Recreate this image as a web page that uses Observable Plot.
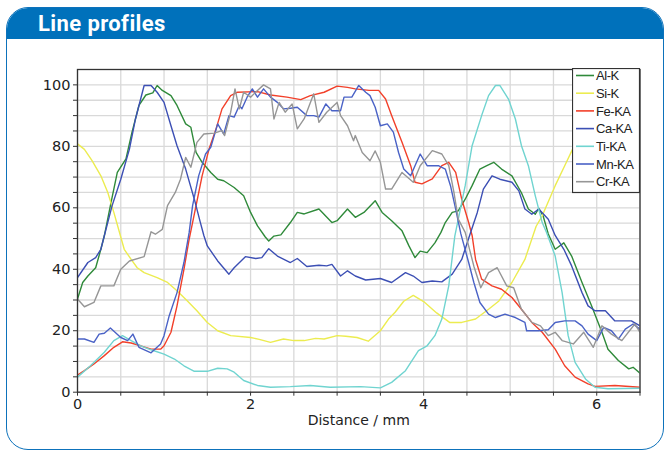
<!DOCTYPE html>
<html>
<head>
<meta charset="utf-8">
<script src="https://cdn.jsdelivr.net/npm/d3@7"></script>
<script src="https://cdn.jsdelivr.net/npm/@observablehq/plot@0.6"></script>
<style>
  html, body { margin: 0; padding: 0; background: #fff; }
  #wrap { position: relative; width: 667px; height: 455px; overflow: hidden; font-family: "DejaVu Sans", Verdana, sans-serif; }
  #card { position: absolute; left: 6px; top: 7px; width: 656px; height: 441px; border: 1.5px solid #0d72bb; border-radius: 22px; overflow: hidden; background: #fff; }
  #head { height: 31px; background: #0071bb; color: #fff; font-family: Roboto, "Liberation Sans", Arial, sans-serif; font-weight: bold; font-size: 22px; line-height: 31px; padding-left: 31px; letter-spacing: 0.4px; }
  #chart { position: absolute; left: 0; top: 0; }
  #legend { position: absolute; left: 572px; top: 68px; }
</style>
</head>
<body>
<div id="wrap">
  <div id="card"><div id="head">Line profiles</div></div>
  <div id="chart"></div>
  <svg id="legend" width="68" height="126"></svg>
</div>
<script>
const seriesNames = ["Al-K", "Si-K", "Fe-KA", "Ca-KA", "Ti-KA", "Mn-KA", "Cr-KA"];
const seriesColors = ["#2f8a3a", "#ecec50", "#f2402a", "#3c4fb4", "#70d4d0", "#4a62c6", "#969696"];
const xTicks = [0, 0.5, 1, 1.5, 2, 2.5, 3, 3.5, 4, 4.5, 5, 5.5, 6, 6.5];
const xLabels = [0, 2, 4, 6];
const yTicks = [0,5,10,15,20,25,30,35,40,45,50,55,60,65,70,75,80,85,90,95,100];
const yLabels = [0, 20, 40, 60, 80, 100];

const alK = [[0,30.3],[0.06,35.7],[0.12,37.8],[0.21,40.5],[0.27,46.5],[0.31,50.9],[0.38,60.7],[0.46,71.5],[0.56,75.9],[0.63,84.6],[0.71,93.3],[0.79,96.7],[0.87,97.4],[0.92,99.8],[0.98,98.2],[1.08,96.5],[1.15,93.3],[1.25,87.3],[1.31,86.2],[1.37,78],[1.44,74.8],[1.54,71.5],[1.62,69.3],[1.69,68.8],[1.81,66.6],[1.92,63.9],[2.0,58.5],[2.08,54.1],[2.17,50.5],[2.21,49.2],[2.27,50.8],[2.35,51.2],[2.46,55.2],[2.54,58.5],[2.62,58],[2.79,59.6],[2.94,55.2],[3.0,55.8],[3.12,59.6],[3.21,56.9],[3.31,58.5],[3.44,62.3],[3.52,58.5],[3.63,55.8],[3.75,52.5],[3.83,47.6],[3.9,43.8],[3.96,45.9],[4.04,45.4],[4.13,48.6],[4.2,52],[4.25,55.2],[4.33,58.5],[4.4,59],[4.48,62.8],[4.56,67.2],[4.65,72.6],[4.73,73.7],[4.81,74.8],[4.9,72.6],[5.02,70.4],[5.13,64.9],[5.21,59.6],[5.29,57.9],[5.33,59.8],[5.38,57.4],[5.44,51.5],[5.52,46.5],[5.62,48.6],[5.71,44.3],[5.83,35.7],[5.94,28.1],[6.06,19.5],[6.13,14],[6.25,10.3],[6.37,7.6],[6.42,8.1],[6.5,6.2]];
const siK = [[0,80.8],[0.08,79],[0.17,75.3],[0.27,70.4],[0.35,65],[0.42,58.5],[0.5,50.5],[0.54,46.5],[0.62,43.2],[0.69,40.5],[0.77,38.9],[0.92,37.3],[1.04,35.7],[1.15,33],[1.27,29.7],[1.38,26.5],[1.5,22.7],[1.62,20],[1.77,18.4],[2.0,17.8],[2.1,17.2],[2.23,16.2],[2.38,17.3],[2.5,16.8],[2.62,16.8],[2.75,17.5],[2.85,17.3],[3.0,18.4],[3.1,18.2],[3.23,17.8],[3.36,16.6],[3.5,20],[3.6,24],[3.67,26],[3.77,29.6],[3.88,31.5],[4.0,29.5],[4.15,25.8],[4.3,22.7],[4.44,22.7],[4.6,23.8],[4.75,27],[4.87,29.7],[5.02,35.7],[5.17,43.2],[5.3,54],[5.37,57.4],[5.52,67.2],[5.63,73.7],[5.72,79],[5.9,87],[6.1,94],[6.3,98],[6.5,100]];
const feKA = [[0,5.6],[0.08,7],[0.19,9.2],[0.31,11.9],[0.42,14.6],[0.52,16.4],[0.62,16],[0.73,15.1],[0.85,14],[0.96,14],[1.0,15.1],[1.08,19.5],[1.15,28.1],[1.23,40],[1.29,49.7],[1.37,60.7],[1.44,70.4],[1.52,79.1],[1.6,85.6],[1.67,92.2],[1.77,96.5],[1.85,97.6],[2.08,97.8],[2.23,96.7],[2.42,96],[2.58,95.2],[2.69,96.5],[2.85,97.6],[3.0,99.6],[3.12,99.2],[3.21,98.7],[3.37,98.2],[3.48,98.2],[3.56,95.4],[3.63,90],[3.75,81.3],[3.85,73.7],[3.9,68.3],[3.98,67.8],[4.1,69.4],[4.21,73.7],[4.29,74.8],[4.37,71.5],[4.44,62.8],[4.52,55.2],[4.56,51],[4.6,43.2],[4.67,36.8],[4.79,34.6],[4.9,33.5],[5.02,30.8],[5.13,27],[5.25,22.7],[5.37,19.5],[5.52,14],[5.63,8.6],[5.75,4.9],[5.9,2.7],[5.98,1.9],[6.21,2.2],[6.5,1.6]];
const caKA = [[0,37.3],[0.12,42.2],[0.21,43.8],[0.27,46.5],[0.31,50.9],[0.4,60.7],[0.5,69.3],[0.6,79.1],[0.67,88.9],[0.77,99.8],[0.85,99.8],[0.92,97.6],[1.0,94.3],[1.08,86.7],[1.15,80.2],[1.25,72.6],[1.35,62.8],[1.42,55.2],[1.46,51],[1.5,47.6],[1.62,42.7],[1.75,38.4],[1.81,40.5],[1.94,44.1],[2.06,43.5],[2.13,43.8],[2.21,46.7],[2.31,44.3],[2.46,42.2],[2.54,43.5],[2.65,40.9],[2.79,41.3],[2.88,41.1],[2.94,41.6],[3.04,37.8],[3.12,39.5],[3.21,37.8],[3.33,36.5],[3.5,37],[3.63,35.7],[3.79,38.9],[3.88,37.8],[3.98,35.7],[4.1,36.2],[4.21,35.9],[4.33,38.4],[4.44,43.2],[4.53,50.9],[4.62,58.5],[4.69,66.1],[4.79,70.4],[4.88,69.3],[5.02,68.3],[5.1,65.5],[5.17,59.6],[5.25,57.9],[5.33,59.6],[5.44,56.3],[5.52,51],[5.62,46.5],[5.71,41.1],[5.83,32.4],[5.9,28.1],[5.98,26.5],[6.1,26.5],[6.21,23.2],[6.4,23.2],[6.5,21.6]];
const tiKA = [[0,4.9],[0.15,8.6],[0.31,13],[0.42,16.8],[0.52,18.4],[0.62,16.8],[0.73,15.1],[0.85,13.8],[1.0,12.4],[1.12,10.8],[1.23,8.6],[1.35,6.8],[1.5,6.8],[1.62,7.8],[1.73,7.6],[1.81,6.5],[1.92,3.8],[2.08,2.2],[2.23,1.6],[2.46,1.8],[2.69,2.2],[2.92,1.6],[3.27,1.8],[3.5,1.4],[3.63,3.2],[3.79,7],[3.94,13.5],[4.04,15.1],[4.13,18.4],[4.21,23.8],[4.29,34.6],[4.36,50.8],[4.48,67.2],[4.56,80.2],[4.67,90],[4.75,96.5],[4.83,99.8],[4.88,99.8],[4.98,95.4],[5.06,88.9],[5.13,80.2],[5.21,73.7],[5.29,63.9],[5.37,55.2],[5.42,52],[5.52,44.3],[5.6,32.4],[5.67,18.4],[5.75,9.7],[5.87,4.3],[5.98,1.6],[6.13,1.1],[6.5,1.3]];
const mnKA = [[0,17.3],[0.08,17.3],[0.19,16.2],[0.25,18.9],[0.31,19.2],[0.38,20.9],[0.5,17.8],[0.58,16.8],[0.64,18.9],[0.71,14.6],[0.85,12.8],[0.96,15.7],[1.0,18.4],[1.06,24.9],[1.15,32.4],[1.23,42.2],[1.29,51.9],[1.33,60.7],[1.4,70.4],[1.48,77.5],[1.54,79.7],[1.62,87.3],[1.69,84],[1.75,90],[1.81,89.5],[1.87,93.3],[1.9,92.2],[1.96,96],[2.02,98.7],[2.08,96],[2.15,98.7],[2.23,96],[2.31,94.3],[2.38,92.2],[2.46,92.4],[2.54,92.7],[2.65,90],[2.73,90],[2.79,89.5],[2.87,93.8],[2.94,91.6],[3.04,91.6],[3.08,96],[3.17,96],[3.25,99.8],[3.33,97.6],[3.38,96.5],[3.44,92.7],[3.5,86.7],[3.58,87.3],[3.65,84.6],[3.71,78],[3.77,72.6],[3.85,70.4],[3.9,73.7],[3.96,77.5],[4.04,73.7],[4.17,73.7],[4.25,72.6],[4.31,67.2],[4.37,59.6],[4.43,51.5],[4.52,42.2],[4.58,35.7],[4.65,29.2],[4.75,25.4],[4.83,24.3],[4.94,25.4],[5.06,24.3],[5.17,22.7],[5.19,20],[5.33,20],[5.44,20.3],[5.52,22.7],[5.63,23.2],[5.75,23.2],[5.83,21.6],[5.9,18.9],[6.0,16.8],[6.08,21.1],[6.17,20],[6.25,17.3],[6.33,20.5],[6.42,22.2],[6.5,20.5]];
const crKA = [[0,30.3],[0.08,27.8],[0.19,29.2],[0.27,34.6],[0.42,34.6],[0.5,40],[0.6,42.7],[0.77,44.1],[0.85,52.2],[0.9,51.4],[0.98,53],[1.04,60.7],[1.13,65],[1.19,69.3],[1.25,76.4],[1.31,73.2],[1.38,81.3],[1.46,84],[1.58,84.3],[1.67,85.1],[1.7,83.5],[1.77,91.1],[1.82,98.7],[1.87,92.2],[1.92,97.6],[2.0,96],[2.08,98.2],[2.15,100],[2.23,98.7],[2.27,88.9],[2.33,94.3],[2.4,91.1],[2.48,93.8],[2.54,85.7],[2.62,89],[2.73,97.1],[2.79,87.8],[2.88,91.1],[3.0,94.3],[3.04,90],[3.12,86.7],[3.19,81.8],[3.21,83.5],[3.29,78],[3.38,75.3],[3.44,78.5],[3.5,74.8],[3.56,66.1],[3.63,66.1],[3.75,71.5],[3.88,68.3],[3.96,73.7],[4.1,78.6],[4.21,77.5],[4.29,73.7],[4.35,65],[4.4,56.3],[4.48,52],[4.58,41],[4.66,34],[4.75,38.9],[4.85,40.5],[4.96,34.6],[5.04,34],[5.13,27],[5.25,22.7],[5.35,21.6],[5.44,18.4],[5.52,19.5],[5.6,16.8],[5.73,15.7],[5.85,19.5],[5.96,14.6],[6.06,21.6],[6.17,18.9],[6.29,16.8],[6.44,22.2],[6.5,19.5]];

const seriesData = [alK, siK, feKA, caKA, tiKA, mnKA, crKA];
const rows = seriesData.flatMap((arr, i) => arr.map(([x, y]) => ({x, y, s: seriesNames[i]})));

const fontFam = "'DejaVu Sans', Verdana, sans-serif";
const chart = Plot.plot({
  width: 667,
  height: 455,
  marginLeft: 77,
  marginRight: 27.5,
  marginTop: 69,
  marginBottom: 63.3,
  style: {background: "none", overflow: "visible", fontFamily: fontFam},
  x: {domain: [0, 6.5]},
  y: {domain: [0, 105]},
  color: {domain: seriesNames, range: seriesColors},
  marks: [
    Plot.gridX(xTicks, {stroke: "#d9d9d9", strokeOpacity: 1, strokeWidth: 1.3}),
    Plot.gridY(yTicks, {stroke: "#d9d9d9", strokeOpacity: 1, strokeWidth: 1.3}),
    Plot.lineY(rows, {x: "x", y: "y", z: "s", stroke: "s", strokeWidth: 1.4, clip: true}),
    Plot.frame({stroke: "#333", strokeWidth: 1.3}),
    Plot.axisX({ticks: xTicks, tickSize: 4, stroke: "#333", tickFormat: d => xLabels.includes(d) ? d : "", fontSize: 14.5, fill: "#222", tickPadding: 3, label: null}),
    Plot.axisY({ticks: yTicks, tickSize: 4, stroke: "#333", tickFormat: d => yLabels.includes(d) ? d : "", fontSize: 14.5, fill: "#222", tickPadding: 3, label: null}),
    Plot.text(["Distance / mm"], {frameAnchor: "bottom", dy: 33, fontSize: 14, fill: "#222"})
  ]
});
document.getElementById("chart").appendChild(chart);

// legend (opaque box over the plot, as in the original)
const leg = d3.select("#legend");
leg.append("rect").attr("x", 0.5).attr("y", 0.5).attr("width", 67).attr("height", 124)
  .attr("fill", "#fff").attr("stroke", "#333").attr("stroke-width", 1.2);
const rowStep = 17.7;
seriesNames.forEach((n, i) => {
  const cy = 7.5 + i * rowStep;
  leg.append("line").attr("x1", 4).attr("x2", 22).attr("y1", cy).attr("y2", cy)
    .attr("stroke", seriesColors[i]).attr("stroke-width", 1.6);
  leg.append("text").attr("x", 24).attr("y", cy).attr("dy", "0.36em")
    .attr("font-family", "'Liberation Sans', Arial, sans-serif").attr("font-size", 13)
    .attr("letter-spacing", "-0.45").attr("fill", "#222").text(n);
});
</script>
</body>
</html>
